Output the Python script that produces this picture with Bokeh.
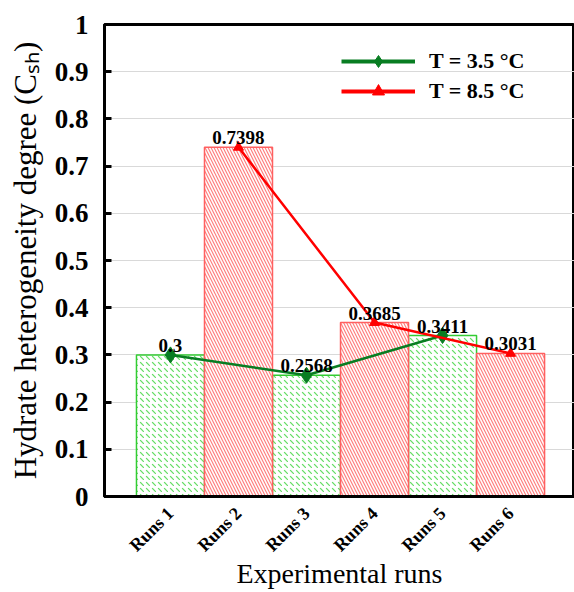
import math
from bokeh.plotting import figure
from bokeh.models import Range1d, FixedTicker, Label, Legend, LegendItem
from bokeh.embed import file_html
from bokeh.resources import INLINE

# ---------------- data ----------------
run_labels = ["Runs 1", "Runs 2", "Runs 3", "Runs 4", "Runs 5", "Runs 6"]
run_pos = [1, 2, 3, 4, 5, 6]
low_runs = [1, 3, 5]
low_values = [0.3, 0.2568, 0.3411]
high_runs = [2, 4, 6]
high_values = [0.7398, 0.3685, 0.3031]
low_text = ["0.3", "0.2568", "0.3411"]
high_text = ["0.7398", "0.3685", "0.3031"]
y_ticks = [0, 0.1, 0.2, 0.3, 0.4, 0.5, 0.6, 0.7, 0.8, 0.9, 1.0]
y_tick_labels = ["0", "0.1", "0.2", "0.3", "0.4", "0.5", "0.6", "0.7", "0.8", "0.9", "1"]
legend_low = "T = 3.5 \u00b0C"
legend_high = "T = 8.5 \u00b0C"
x_title = "Experimental runs"
y_title = "Hydrate heterogeneity degree (C\u209b\u2095)"

SERIF = "Liberation Serif"
W, H = 574, 592
L, T, B = 104, 24, 95

p = figure(width=W, height=H, output_backend="svg", toolbar_location=None,
           x_range=Range1d(0.03, 6.94), y_range=Range1d(0, 1),
           min_border_left=L, min_border_top=T, min_border_bottom=B,
           min_border_right=0)
p.outline_line_color = "black"
p.outline_line_width = 3

# grid
p.xgrid.grid_line_color = None
p.ygrid.grid_line_color = "#d9d9d9"
p.ygrid.grid_line_width = 1
p.yaxis.ticker = FixedTicker(ticks=y_ticks)
p.yaxis.major_label_overrides = {t: s for t, s in zip(y_ticks, y_tick_labels)}
p.xaxis.ticker = FixedTicker(ticks=run_pos)
p.xaxis.major_label_overrides = {r: s for r, s in zip(run_pos, run_labels)}

# axes style
p.yaxis.axis_line_width = 3
p.yaxis.major_tick_in = 7
p.yaxis.major_tick_out = 0
p.yaxis.major_tick_line_width = 3
p.yaxis.minor_tick_line_color = None
p.yaxis.major_label_text_font = SERIF
p.yaxis.major_label_text_font_style = "bold"
p.yaxis.major_label_text_font_size = "27px"
p.yaxis.major_label_text_color = "black"
p.yaxis.major_label_standoff = 16
p.yaxis.axis_label = y_title
p.yaxis.axis_label_text_font = SERIF
p.yaxis.axis_label_text_font_style = "normal"
p.yaxis.axis_label_text_font_size = "31px"
p.yaxis.axis_label_text_color = "black"
p.yaxis.axis_label_standoff = 9

p.xaxis.axis_line_width = 3
p.xaxis.major_tick_line_color = None
p.xaxis.minor_tick_line_color = None
p.xaxis.major_label_orientation = math.pi / 4
p.xaxis.major_label_text_font = SERIF
p.xaxis.major_label_text_font_style = "bold"
p.xaxis.major_label_text_font_size = "18px"
p.xaxis.major_label_text_color = "black"
p.xaxis.major_label_standoff = 8
p.xaxis.axis_label = x_title
p.xaxis.axis_label_text_font = SERIF
p.xaxis.axis_label_text_font_style = "normal"
p.xaxis.axis_label_text_font_size = "28px"
p.xaxis.axis_label_text_color = "black"
p.xaxis.axis_label_standoff = -7

# bars
p.vbar(x=low_runs, top=low_values, width=1.0, bottom=0,
       fill_color="white", line_color="#33cc33", line_width=1.5,
       hatch_pattern="`", hatch_color="#66dd66", hatch_scale=6, hatch_weight=1.2)
p.vbar(x=high_runs, top=high_values, width=1.0, bottom=0,
       fill_color="white", line_color="#ff6060", line_width=1.5,
       hatch_pattern="\\", hatch_color="#ff8080", hatch_scale=6, hatch_weight=1.2)

# lines
gl = p.line(low_runs, low_values, line_color="#087d22", line_width=2.5)
gm = p.scatter(low_runs, low_values, marker="diamond", size=16,
               fill_color="#087d22", line_color="#087d22")
rl = p.line(high_runs, high_values, line_color="#ff0000", line_width=2.5)
rm = p.scatter(high_runs, high_values, marker="triangle", size=10,
               fill_color="#ff0000", line_color="#ff0000")

# legend-only glyphs (thicker lines as in the reference legend)
lgl = p.line([low_runs[0]], [low_values[0]], line_color="#087d22", line_width=4, visible=False)
lgm = p.scatter([low_runs[0]], [low_values[0]], marker="diamond", size=18,
                fill_color="#087d22", line_color="#087d22", visible=False)
lrl = p.line([high_runs[0]], [high_values[0]], line_color="#ff0000", line_width=4, visible=False)
lrm = p.scatter([high_runs[0]], [high_values[0]], marker="triangle", size=9,
                fill_color="#ff0000", line_color="#ff0000", visible=False)

# data labels
for xs, ys, ts in ((low_runs, low_values, low_text), (high_runs, high_values, high_text)):
    for x, y, t in zip(xs, ys, ts):
        p.add_layout(Label(x=x, y=y, text=t, text_align="center", text_baseline="bottom",
                           y_offset=3, text_font=SERIF, text_font_style="bold",
                           text_font_size="19px", text_color="black"))

# legend
legend = Legend(items=[LegendItem(label=legend_low, renderers=[lgl, lgm]),
                       LegendItem(label=legend_high, renderers=[lrl, lrm])],
                location=(237, 390))
legend.background_fill_alpha = 0
legend.border_line_color = None
legend.label_text_font = SERIF
legend.label_text_font_style = "bold"
legend.label_text_font_size = "22px"
legend.label_text_color = "black"
legend.glyph_width = 74
legend.glyph_height = 30
legend.spacing = -3
legend.label_standoff = 14
p.add_layout(legend)

open("out.html", "w").write(file_html(p, INLINE))
